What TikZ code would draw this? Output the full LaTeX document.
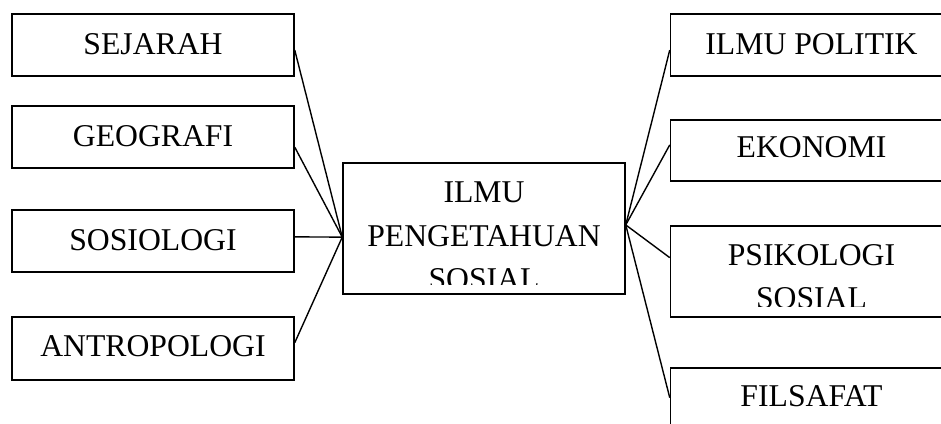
\documentclass[tikz,border=0pt]{standalone}
\usepackage{fontspec}
\setmainfont{Liberation Serif}
\usetikzlibrary{calc}
\newcommand{\lbfont}{\fontsize{31.7}{43}\selectfont}
\tikzset{
  boxnode/.style={draw, line width=1.5pt, rectangle, inner sep=0pt, minimum width=282pt},
  lbl/.style={anchor=base, inner sep=0pt, font=\lbfont},
  conn/.style={line width=1.4pt}
}
\begin{document}
\begin{tikzpicture}[x=1pt,y=-1pt]
\useasboundingbox (0,0) rectangle (941,423);
\clip (0,0) rectangle (941,423);
% left boxes
\node[boxnode, minimum height=62pt] (sej) at (153,45) {};
\node[boxnode, minimum height=62pt] (geo) at (153,137) {};
\node[boxnode, minimum height=62pt] (sos) at (153,241) {};
\node[boxnode, minimum height=63pt] (ant) at (153,348.5) {};
% centre box
\node[boxnode, minimum height=131pt] (ips) at (484,228.5) {};
% right boxes
\node[boxnode, minimum height=62pt] (pol) at (811.5,45) {};
\node[boxnode, minimum height=61pt] (eko) at (811.5,150.5) {};
\node[boxnode, minimum height=91pt] (psi) at (811.5,271.5) {};
\node[boxnode, minimum height=62pt] (fil) at (811.5,399) {};
% labels
\node[lbl] (tsej) at (153,54.3) {SEJARAH};
\node[lbl] (tgeo) at (153,146.7) {GEOGRAFI};
\node[lbl] (tsos) at (153,250) {SOSIOLOGI};
\node[lbl] (tant) at (153,356.7) {ANTROPOLOGI};
\node[lbl] (tpol) at (811.5,54.3) {ILMU POLITIK};
\node[lbl] (teko) at (811.5,157.7) {EKONOMI};
\node[lbl] (tfil) at (811.5,406.7) {FILSAFAT};
\node[lbl] (tips1) at (484,202.7) {ILMU};
\node[lbl] (tips2) at (484,246) {PENGETAHUAN};
\begin{scope}
  \clip (ips.north west) rectangle (625,284);
  \node[lbl] (tips3) at (484,289) {SOSIAL};
\end{scope}
\node[lbl] (tpsi1) at (811.5,265) {PSIKOLOGI};
\begin{scope}
  \clip (psi.north west) rectangle (952,306);
  \node[lbl] (tpsi2) at (811.5,308) {SOSIAL};
\end{scope}
% hubs
\coordinate (hubL) at ($(ips.north west)!0.565!(ips.south west)$);
\coordinate (hubR) at ($(ips.north east)!0.473!(ips.south east)$);
% connectors
\draw[conn] ($(sej.north east)!0.58!(sej.south east)$) -- (hubL);
\draw[conn] ($(geo.north east)!0.66!(geo.south east)$) -- (hubL);
\draw[conn] ($(sos.north east)!0.435!(sos.south east)$) -- (hubL);
\draw[conn] ($(ant.north east)!0.41!(ant.south east)$) -- (hubL);
\draw[conn] ($(pol.north west)!0.58!(pol.south west)$) -- (hubR);
\draw[conn] ($(eko.north west)!0.41!(eko.south west)$) -- (hubR);
\draw[conn] ($(psi.north west)!0.35!(psi.south west)$) -- (hubR);
\draw[conn] ($(fil.north west)!0.48!(fil.south west)$) -- (hubR);
\end{tikzpicture}
\end{document}
